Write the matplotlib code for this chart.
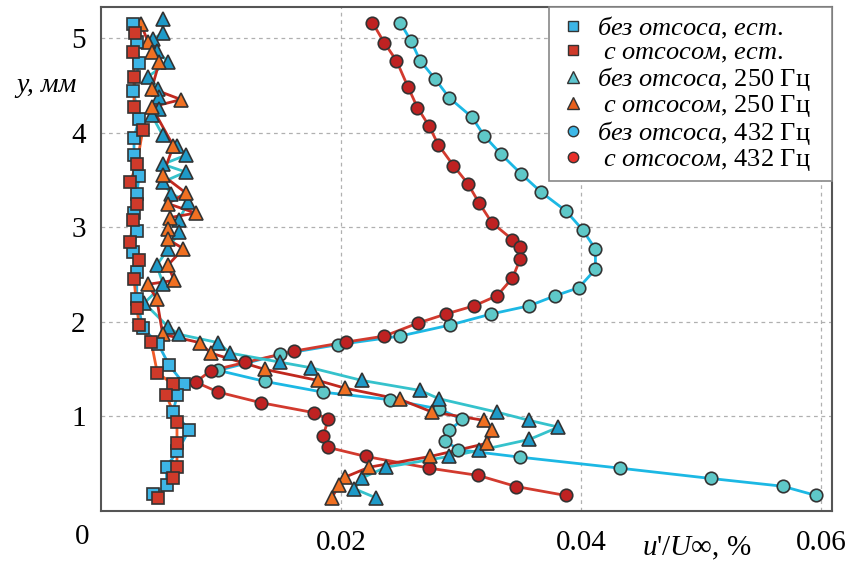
import matplotlib
matplotlib.use("Agg")
import matplotlib.pyplot as plt
from matplotlib.lines import Line2D

plt.rcParams['font.family'] = ['Liberation Serif', 'DejaVu Serif']
plt.rcParams['mathtext.fontset'] = 'custom'
plt.rcParams['mathtext.rm'] = 'Liberation Serif'
plt.rcParams['mathtext.it'] = 'Liberation Serif:italic'

# ---- data ----
sqb_y = [5.148, 4.955, 4.743, 4.442, 4.143, 3.949, 3.762, 3.543, 3.349, 3.151, 2.958, 2.735, 2.527,
         2.246, 1.939, 1.762, 1.540, 1.339, 1.228, 1.051, 0.859, 0.630, 0.469, 0.270, 0.175]
sqb_x = [0.00269, 0.00298, 0.00319, 0.00269, 0.00317, 0.00275, 0.00275, 0.00317, 0.00298, 0.00275,
         0.00298, 0.00269, 0.00298, 0.00298, 0.00348, 0.00478, 0.00569, 0.00694, 0.00636, 0.00600,
         0.00736, 0.00636, 0.00546, 0.00546, 0.00431]

sqr_y = [5.060, 4.855, 4.590, 4.273, 4.026, 3.667, 3.479, 3.243, 3.081, 2.844, 2.656, 2.457, 2.150,
         1.963, 1.783, 1.463, 1.339, 1.228, 0.940, 0.714, 0.469, 0.354, 0.140]
sqr_x = [0.00283, 0.00269, 0.00275, 0.00275, 0.00348, 0.00298, 0.00242, 0.00298, 0.00269, 0.00242,
         0.00319, 0.00275, 0.00298, 0.00319, 0.00419, 0.00469, 0.00600, 0.00544, 0.00633, 0.00633,
         0.00633, 0.00598, 0.00471]

trb_y = [5.201, 5.060, 4.989, 4.866, 4.749, 4.590, 4.468, 4.373, 4.249, 4.185, 3.974, 3.860, 3.762,
         3.667, 3.585, 3.479, 3.357, 3.268, 3.081, 2.950, 2.775, 2.598, 2.397, 2.199, 1.945, 1.868,
         1.780, 1.670, 1.574, 1.515, 1.381, 1.275, 1.187, 1.046, 0.958, 0.887, 0.757, 0.640, 0.577,
         0.463, 0.351, 0.235, 0.140]
trb_x = [0.00514, 0.00514, 0.00436, 0.00464, 0.00561, 0.00389, 0.00473, 0.00486, 0.00486, 0.00423,
         0.00514, 0.00636, 0.00706, 0.00514, 0.00706, 0.00514, 0.00583, 0.00728, 0.00650, 0.00650,
         0.00561, 0.00464, 0.00519, 0.00361, 0.00561, 0.00650, 0.00978, 0.01075, 0.01492, 0.01748,
         0.02173, 0.02658, 0.02817, 0.03297, 0.03569, 0.03811, 0.03569, 0.03148, 0.02900, 0.02373,
         0.02178, 0.02111, 0.02289]

tro_y = [5.148, 4.955, 4.855, 4.749, 4.468, 4.351, 4.273, 3.860, 3.550, 3.363, 3.251, 3.151, 3.103,
         2.986, 2.873, 2.775, 2.598, 2.439, 2.397, 2.246, 1.868, 1.780, 1.670, 1.497, 1.381, 1.299,
         1.180, 1.048, 0.958, 0.852, 0.717, 0.577, 0.463, 0.358, 0.270, 0.140]
tro_x = [0.00333, 0.00394, 0.00428, 0.00486, 0.00423, 0.00667, 0.00423, 0.00603, 0.00514, 0.00708,
         0.00556, 0.00789, 0.00575, 0.00556, 0.00556, 0.00686, 0.00556, 0.00611, 0.00389, 0.00464,
         0.00514, 0.00825, 0.00914, 0.01367, 0.01806, 0.02033, 0.02492, 0.02756, 0.03194, 0.03256,
         0.03219, 0.02744, 0.02233, 0.02033, 0.01983, 0.01922]

cib_y = [5.166, 4.971, 4.764, 4.569, 4.368, 4.167, 3.966, 3.776, 3.568, 3.370, 3.172, 2.971, 2.770,
         2.556, 2.362, 2.277, 2.171, 2.083, 1.966, 1.850, 1.759, 1.656, 1.487, 1.370, 1.257, 1.177,
         1.079, 0.968, 0.855, 0.743, 0.648, 0.569, 0.453, 0.344, 0.262, 0.164]
cib_x = [0.02492, 0.02583, 0.02658, 0.02783, 0.02903, 0.03089, 0.03194, 0.03331, 0.03498, 0.03669,
         0.03875, 0.04014, 0.04119, 0.04119, 0.03981, 0.03786, 0.03569, 0.03250, 0.02906, 0.02492,
         0.01973, 0.01492, 0.00978, 0.01367, 0.01848, 0.02408, 0.02817, 0.03011, 0.02903, 0.02869,
         0.02978, 0.03494, 0.04325, 0.05081, 0.05678, 0.05958]

cir_y = [5.166, 4.950, 4.764, 4.489, 4.267, 4.072, 3.871, 3.653, 3.462, 3.261, 3.050, 2.870, 2.792,
         2.669, 2.464, 2.277, 2.171, 2.083, 1.989, 1.850, 1.786, 1.691, 1.571, 1.484, 1.363, 1.257,
         1.145, 1.039, 0.968, 0.788, 0.672, 0.577, 0.453, 0.376, 0.259, 0.164]
cir_x = [0.02261, 0.02361, 0.02461, 0.02556, 0.02636, 0.02733, 0.02811, 0.02936, 0.03056, 0.03148,
         0.03256, 0.03428, 0.03494, 0.03494, 0.03428, 0.03300, 0.03111, 0.02873, 0.02644, 0.02361,
         0.02039, 0.01608, 0.01200, 0.00914, 0.00789, 0.00978, 0.01333, 0.01778, 0.01894, 0.01848,
         0.01894, 0.02206, 0.02736, 0.03144, 0.03458, 0.03873]

labels = [r'$\mathit{без\ отсоса}$, $\mathit{ест.}$   ',
          r' $\mathit{с\ отсосом}$, $\mathit{ест.}$   ',
          r'$\mathit{без\ отсоса}$, 250 Гц   ',
          r' $\mathit{с\ отсосом}$, 250 Гц   ',
          r'$\mathit{без\ отсоса}$, 432 Гц   ',
          r' $\mathit{с\ отсосом}$, 432 Гц   ']

x_ticks = [0.02, 0.04, 0.06]
x_ticklabels = ['0.02', '0.04', '0.06']
y_ticks = [1, 2, 3, 4, 5]
y_ticklabels = ['1', '2', '3', '4', '5']

# ---- figure ----
fig = plt.figure(figsize=(8.47, 5.63), dpi=100)
ax = fig.add_axes([101/847, 1 - 511/563, (832-101)/847, (511-7)/563])
ax.set_xlim(0, 0.0609)
ax.set_ylim(0, 5.33)

EDGE = '#333333'
series = [
    # x, y, marker, face, line, ms
    (cib_x, cib_y, 'o', '#5EC8C8', '#1CB8E4', 9.0),
    (cir_x, cir_y, 'o', '#BF2222', '#D23A2E', 9.0),
    (trb_x, trb_y, '^', '#1E9AC8', '#35C2CC', 9.5),
    (tro_x, tro_y, '^', '#F07022', '#C0281E', 9.5),
    (sqb_x, sqb_y, 's', '#3DB5E6', '#22B0E0', 8.0),
    (sqr_x, sqr_y, 's', '#CF3A2A', '#F05A28', 8.0),
]
for i, (xs, ys, m, fc, lc, ms) in enumerate(series):
    ax.plot(xs, ys, color=lc, lw=2.0, zorder=2 + i * 0.1)
for i, (xs, ys, m, fc, lc, ms) in enumerate(series):
    ax.plot(xs, ys, ls='none', marker=m, mfc=fc, mec=EDGE, mew=1.2, ms=ms, zorder=4 + i * 0.1)

ax.set_xticks(x_ticks)
ax.set_xticklabels(x_ticklabels)
ax.set_yticks(y_ticks)
ax.set_yticklabels(y_ticklabels)
ax.tick_params(axis='both', length=0, labelsize=21)
ax.tick_params(axis='x', pad=14)
ax.tick_params(axis='y', pad=11)
ax.grid(True, ls=(0, (3, 3)), color='#B0B0B0', lw=0.9)
for s in ax.spines.values():
    s.set_color('#555555')
    s.set_linewidth(1.5)

fig.text(82/847, 1 - 537/563, '0', fontsize=21, ha='center', va='center')
fig.text(46/847, 1 - 85/563, 'y, мм', fontsize=20, style='italic', ha='center', va='center')
fig.text(697/847, 1 - 548/563, r"$\mathit{u}$'/$\mathit{U}$∞, %", fontsize=21,
         ha='center', va='center')

leg_colors = [('s', '#3DB5E6', 6.5), ('s', '#CF3A2A', 6.5), ('^', '#5CC5CF', 8.0),
              ('^', '#E8601C', 8.0), ('o', '#3DB8E8', 7.5), ('o', '#E8302A', 7.5)]
handles = [Line2D([], [], ls='none', marker=m, mfc=c, mec=EDGE, mew=1.0, ms=s)
           for m, c, s in leg_colors]
leg = ax.legend(handles, labels, loc='upper right', borderaxespad=0, fontsize=19,
                frameon=True, fancybox=False, framealpha=1, edgecolor='#888888',
                handletextpad=0.3, labelspacing=0.0, borderpad=0.3, handlelength=1.2)
leg.get_frame().set_linewidth(1.2)
leg.set_zorder(10)

fig.savefig('out.png', dpi=100)
